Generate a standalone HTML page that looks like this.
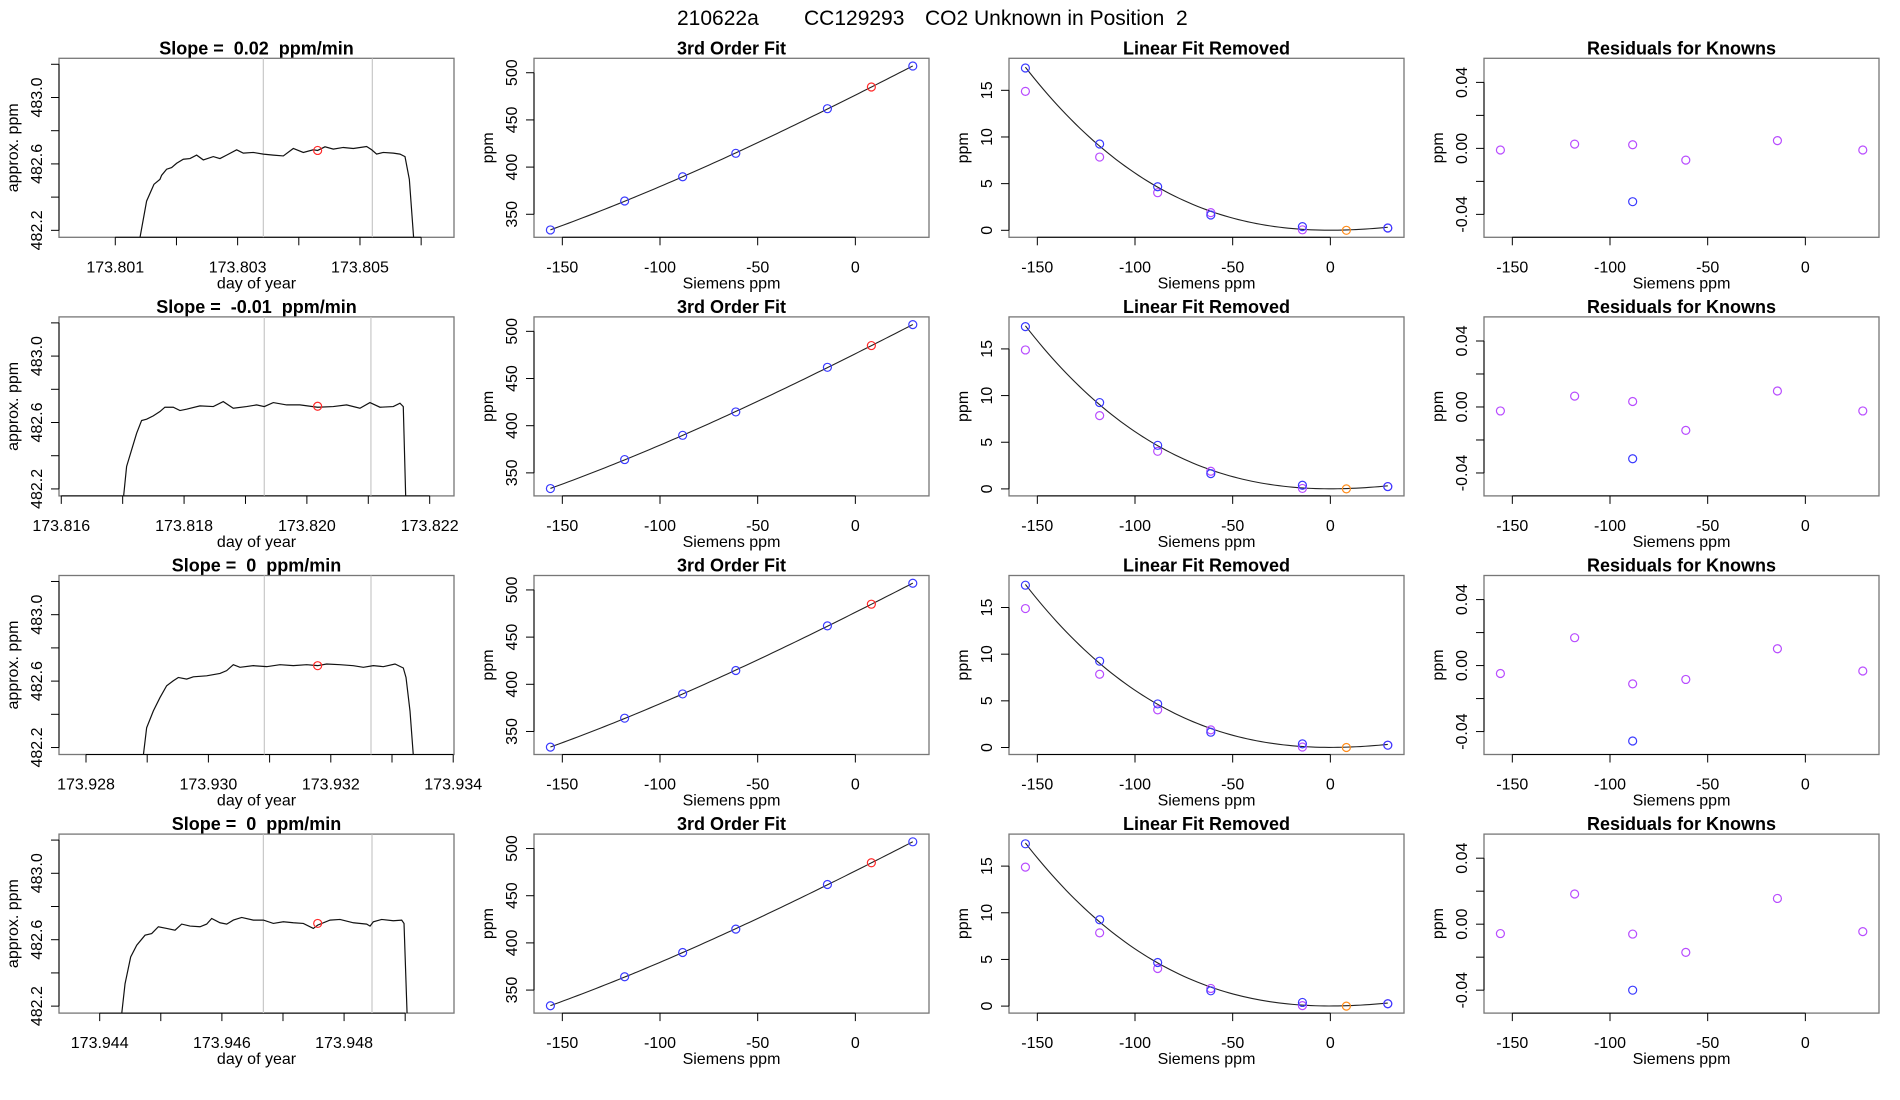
<!DOCTYPE html>
<html><head><meta charset="utf-8"><style>
html,body{margin:0;padding:0;background:#fff;}
svg{display:block;font-family:"Liberation Sans",Arial,sans-serif;}
text{white-space:pre;}
</style></head><body>
<svg id="fig" width="1900" height="1100" viewBox="0 0 1900 1100" xmlns="http://www.w3.org/2000/svg">
<rect width="1900" height="1100" fill="#fff"/>
<g font-size="21" fill="#000">
<text x="677" y="25">210622a</text>
<text x="804" y="25">CC129293</text>
<text x="925" y="25">CO2 Unknown in Position  2</text>
</g>
</svg>
<script>
// ---------- data ----------
const slopeTitles = ["Slope =  0.02  ppm/min","Slope =  -0.01  ppm/min","Slope =  0  ppm/min","Slope =  0  ppm/min"];
const doyRow1 = [173.801376,173.801512,173.801632,173.801730,173.801757,173.801839,173.801921,173.802003,173.802112,173.802221,173.802330,173.802439,173.802602,173.802711,173.802820,173.802984,173.803093,173.803256,173.803420,173.803583,173.803747,173.803910,173.804074,173.804237,173.804308,173.804428,173.804564,173.804728,173.804891,173.805109,173.805191,173.805272,173.805381,173.805545,173.805654,173.805736,173.805807,173.805888];
const ppmRow1 = [482.1,482.376,482.477,482.507,482.531,482.568,482.578,482.604,482.628,482.632,482.653,482.624,482.644,482.632,482.653,482.685,482.665,482.669,482.659,482.653,482.648,482.693,482.669,482.685,482.681,482.703,482.689,482.699,482.693,482.705,482.685,482.659,482.669,482.665,482.659,482.644,482.507,482.1];
const doyRow2 = [173.817000,173.817064,173.817145,173.817227,173.817308,173.817390,173.817498,173.817607,173.817688,173.817824,173.817933,173.818041,173.818258,173.818476,173.818638,173.818801,173.819018,173.819181,173.819306,173.819453,173.819670,173.819887,173.820175,173.820430,173.820647,173.820864,173.821027,173.821190,173.821407,173.821516,173.821570,173.821613];
const ppmRow2 = [482.1,482.335,482.435,482.535,482.612,482.620,482.640,482.666,482.692,482.692,482.672,482.680,482.700,482.696,482.726,482.686,482.696,482.706,482.696,482.720,482.706,482.706,482.692,482.696,482.706,482.686,482.720,482.692,482.696,482.716,482.696,482.1];
const doyRow3 = [173.928920,173.928991,173.929100,173.929209,173.929318,173.929427,173.929509,173.929645,173.929754,173.929972,173.930190,173.930298,173.930407,173.930516,173.930734,173.930952,173.931170,173.931388,173.931606,173.931785,173.931932,173.932150,173.932368,173.932532,173.932695,173.932858,173.933049,173.933185,173.933229,173.933294,173.933359];
const ppmRow3 = [482.1,482.319,482.420,482.501,482.572,482.602,482.622,482.612,482.626,482.632,482.646,482.663,482.699,482.683,482.693,482.687,482.699,482.693,482.699,482.693,482.703,482.699,482.693,482.683,482.693,482.687,482.703,482.679,482.622,482.420,482.1];
const doyRow4 = [173.944344,173.944415,173.944507,173.944606,173.944742,173.944851,173.944960,173.945097,173.945233,173.945342,173.945478,173.945642,173.945751,173.945833,173.945969,173.946079,173.946188,173.946324,173.946515,173.946679,173.946842,173.947006,173.947170,173.947333,173.947497,173.947568,173.947770,173.947933,173.948152,173.948370,173.948425,173.948479,173.948615,173.948806,173.948943,173.948981,173.949036];
const ppmRow4 = [482.1,482.335,482.496,482.567,482.627,482.637,482.678,482.668,482.657,482.694,482.682,482.678,482.694,482.728,482.702,482.694,482.718,482.734,482.718,482.718,482.698,482.708,482.702,482.698,482.668,482.688,482.718,482.722,482.702,482.694,482.682,482.708,482.722,482.714,482.718,482.698,482.1];
const redDoy = [173.804308,173.820175,173.931785,173.947568];
const redPpm = [482.681,482.698,482.693,482.698];
const windowStart = [173.803420,173.819306,173.930914,173.946679];
const windowEnd = [173.805202,173.821043,173.932657,173.948457];
const doyXMin = [173.80008,173.815963,173.927559,173.943334];
const doyXMax = [173.806537,173.822396,173.934013,173.949799];
const doyTicks1 = [173.801,173.802,173.803,173.804,173.805,173.806];
const doyTicks2 = [173.816,173.817,173.818,173.819,173.820,173.821,173.822];
const doyTicks3 = [173.928,173.929,173.930,173.931,173.932,173.933,173.934];
const doyTicks4 = [173.944,173.945,173.946,173.947,173.948,173.949];
const doyLabelEvery = 2;
const ppmTicks = [482.2,482.4,482.6,482.8,483.0,483.2];
const ppmTickLabels = ["482.2","","482.6","","483.0",""];

const siemensX = [-156.1,-118.1,-88.4,-61.2,-14.3,29.4];
const knownPpm = [333.4,364.1,389.8,414.6,461.9,507.1];
const unknownSiemens = 8.2;
const unknownPpm = 484.9;
const fitYTicks = [350,400,450,500];
const siemensTicks = [-150,-100,-50,0];

const linRemBlue = [17.39,9.25,4.67,1.64,0.39,0.25];
const linRemPurple = [14.89,7.85,4.03,1.89,0.05,0.25];
const linRemUnknown = 0.0;
const linRemTicks = [0,5,10,15];

const residRow1 = [-0.0010,0.0026,0.0022,-0.0071,0.0047,-0.0010];
const residRow2 = [-0.0024,0.0066,0.0033,-0.0142,0.0097,-0.0024];
const residRow3 = [-0.0048,0.0169,-0.0111,-0.0084,0.0102,-0.0033];
const residRow4 = [-0.0057,0.0183,-0.0060,-0.0171,0.0156,-0.0045];
const residBlueX = [-88.4,-88.4,-88.4,-88.4];
const residBlue = [-0.0323,-0.0314,-0.0457,-0.040];
const residTicks = [-0.04,-0.02,0,0.02,0.04];
const residTickLabels = ["-0.04","","0.00","","0.04"];

// ---------- drawing ----------
const NS = "http://www.w3.org/2000/svg";
const svg = document.getElementById("fig");
const BOXW = 395, BOXH = 179;
const BLUE = "#3a3aff", PURPLE = "#b84cff", RED = "#ff2a2a", ORANGE = "#ff8c1a";

function mk(tag, attrs, parent){
  const e = document.createElementNS(NS, tag);
  for (const k in attrs) e.setAttribute(k, attrs[k]);
  (parent||svg).appendChild(e);
  return e;
}
function scale(d0,d1,r0,r1){ return v => r0 + (v-d0)/(d1-d0)*(r1-r0); }

function cubicFit(xs, ys){
  const n=4, A=[], b=[];
  for(let i=0;i<n;i++){A.push(new Array(n).fill(0)); b.push(0);}
  for(let k=0;k<xs.length;k++){
    for(let i=0;i<n;i++){
      b[i]+=ys[k]*Math.pow(xs[k],i);
      for(let j=0;j<n;j++) A[i][j]+=Math.pow(xs[k],i+j);
    }
  }
  for(let i=0;i<n;i++){
    let p=i; for(let r=i+1;r<n;r++) if(Math.abs(A[r][i])>Math.abs(A[p][i])) p=r;
    [A[i],A[p]]=[A[p],A[i]]; [b[i],b[p]]=[b[p],b[i]];
    for(let r=i+1;r<n;r++){ const f=A[r][i]/A[i][i]; for(let c=i;c<n;c++) A[r][c]-=f*A[i][c]; b[r]-=f*b[i]; }
  }
  const c=new Array(n).fill(0);
  for(let i=n-1;i>=0;i--){ let s=b[i]; for(let j=i+1;j<n;j++) s-=A[i][j]*c[j]; c[i]=s/A[i][i]; }
  return x => c[0]+c[1]*x+c[2]*x*x+c[3]*x*x*x;
}

function panel(r, c, opt){
  const L = 475*c + 59, T = 58.3 + 258.6*r, B = T + BOXH, R = L + BOXW;
  const g = mk("g", {});
  
  
  const sx = scale(opt.xmin, opt.xmax, L, R), sy = scale(opt.ymin, opt.ymax, B, T);
  const cid = "clip"+r+"_"+c;
  const cp = mk("clipPath", {id: cid}, g);
  mk("rect", {x:L, y:T, width:BOXW, height:BOXH}, cp);
  const t = mk("text", {x:L+BOXW/2, y:T-4, "text-anchor":"middle", "font-size":"18", "font-weight":"bold"}, g);
  t.textContent = opt.title;
  
  
  const box = mk("rect", {x:L, y:T, width:BOXW, height:BOXH, fill:"none", stroke:"#777", "stroke-width":"1.3"}, g);
  
  
  const xa = mk("g", {}, g);
  
  
  const xt = opt.xticks;
  mk("line", {x1:sx(xt[0]), x2:sx(xt[xt.length-1]), y1:B, y2:B, stroke:"#000", "stroke-width":"1"}, xa);
  xt.forEach((v,i)=>{
    mk("line", {x1:sx(v), x2:sx(v), y1:B, y2:B+8, stroke:"#000"}, xa);
    const lab = opt.xlabels[i];
    if (lab){
      const tx = mk("text", {x:sx(v), y:B+35, "text-anchor":"middle", "font-size":"16"}, xa);
      tx.textContent = lab;
      
      
    }
  });
  const xtl = mk("text", {x:L+BOXW/2, y:B+51, "text-anchor":"middle", "font-size":"16"}, g);
  xtl.textContent = opt.xtitle;
  
  
  const ya = mk("g", {}, g);
  
  
  const yt = opt.yticks;
  mk("line", {x1:L, x2:L, y1:sy(yt[0]), y2:sy(yt[yt.length-1]), stroke:"#000"}, ya);
  yt.forEach((v,i)=>{
    mk("line", {x1:L-8, x2:L, y1:sy(v), y2:sy(v), stroke:"#000"}, ya);
    const lab = opt.ylabels[i];
    if (lab){
      const ty = mk("text", {x:0, y:0, "text-anchor":"middle", "font-size":"16", transform:"translate("+(L-17)+","+sy(v)+") rotate(-90)"}, ya);
      ty.textContent = lab;
      
      
    }
  });
  const ytl = mk("text", {x:0, y:0, "text-anchor":"middle", "font-size":"16", transform:"translate("+(L-41)+","+(T+BOXH/2)+") rotate(-90)"}, g);
  ytl.textContent = opt.ytitle;
  
  
  const plot = mk("g", {"clip-path":"url(#"+cid+")"}, g);
  return {g:plot, sx, sy};
}
function circle(p, x, y, col, name){
  const e = mk("circle", {cx:p.sx(x), cy:p.sy(y), r:"4", fill:"none", stroke:col, "stroke-width":"1.2"}, p.g);
  
  
}

const doyData = [doyRow1,doyRow2,doyRow3,doyRow4];
const ppmData = [ppmRow1,ppmRow2,ppmRow3,ppmRow4];
const doyTickSets = [doyTicks1,doyTicks2,doyTicks3,doyTicks4];
const residData = [residRow1,residRow2,residRow3,residRow4];
const fit3 = cubicFit(siemensX, knownPpm);
const fitLR = cubicFit(siemensX, linRemBlue);

for (let r=0;r<4;r++){
  const ticks = doyTickSets[r];
  const p1 = panel(r,0,{name:"timeseries-panel-row"+(r+1), title:slopeTitles[r],
    xmin:doyXMin[r], xmax:doyXMax[r], ymin:482.158, ymax:483.236,
    xticks:ticks, xlabels:ticks.map((v,i)=> i%doyLabelEvery===0 ? v.toFixed(3) : ""),
    yticks:ppmTicks, ylabels:ppmTickLabels, xtitle:"day of year", ytitle:"approx. ppm"});
  [windowStart[r], windowEnd[r]].forEach(v=>{
    const l = mk("line", {x1:p1.sx(v), x2:p1.sx(v), y1:p1.sy(482.158), y2:p1.sy(483.236), stroke:"#c8c8c8", "stroke-width":"1.2"}, p1.g);
    
    
  });
  const pts = doyData[r].map((d,i)=> p1.sx(d).toFixed(2)+","+p1.sy(ppmData[r][i]).toFixed(2)).join(" ");
  const pl = mk("polyline", {points:pts, fill:"none", stroke:"#111", "stroke-width":"1.2"}, p1.g);
  
  
  circle(p1, redDoy[r], redPpm[r], RED, "mean-point");

  const p2 = panel(r,1,{name:"cubic-fit-panel-row"+(r+1), title:"3rd Order Fit",
    xmin:-164.5, xmax:37.7, ymin:325.6, ymax:515.3,
    xticks:siemensTicks, xlabels:siemensTicks.map(String),
    yticks:fitYTicks, ylabels:fitYTicks.map(String), xtitle:"Siemens ppm", ytitle:"ppm"});
  let cp = [];
  const x0 = siemensX[0], x1 = siemensX[siemensX.length-1];
  for (let k=0;k<=80;k++){ const x = x0+(x1-x0)*k/80; cp.push(p2.sx(x).toFixed(2)+","+p2.sy(fit3(x)).toFixed(2)); }
  const fl = mk("polyline", {points:cp.join(" "), fill:"none", stroke:"#222", "stroke-width":"1.1"}, p2.g);
  
  
  siemensX.forEach((x,i)=> circle(p2, x, knownPpm[i], BLUE, "known-standard-point"));
  circle(p2, unknownSiemens, unknownPpm, RED, "unknown-point");

  const p3 = panel(r,2,{name:"linear-removed-panel-row"+(r+1), title:"Linear Fit Removed",
    xmin:-164.5, xmax:37.7, ymin:-0.75, ymax:18.43,
    xticks:siemensTicks, xlabels:siemensTicks.map(String),
    yticks:linRemTicks, ylabels:linRemTicks.map(String), xtitle:"Siemens ppm", ytitle:"ppm"});
  cp = [];
  for (let k=0;k<=80;k++){ const x = x0+(x1-x0)*k/80; cp.push(p3.sx(x).toFixed(2)+","+p3.sy(fitLR(x)).toFixed(2)); }
  const fl3 = mk("polyline", {points:cp.join(" "), fill:"none", stroke:"#222", "stroke-width":"1.1"}, p3.g);
  
  
  siemensX.forEach((x,i)=> circle(p3, x, linRemPurple[i], PURPLE, "measured-point"));
  siemensX.forEach((x,i)=> circle(p3, x, linRemBlue[i], BLUE, "fit-point"));
  circle(p3, unknownSiemens, linRemUnknown, ORANGE, "unknown-point");

  const p4 = panel(r,3,{name:"residuals-panel-row"+(r+1), title:"Residuals for Knowns",
    xmin:-164.5, xmax:37.7, ymin:-0.0539, ymax:0.0546,
    xticks:siemensTicks, xlabels:siemensTicks.map(String),
    yticks:residTicks, ylabels:residTickLabels, xtitle:"Siemens ppm", ytitle:"ppm"});
  siemensX.forEach((x,i)=> circle(p4, x, residData[r][i], PURPLE, "residual-point"));
  circle(p4, residBlueX[r], residBlue[r], BLUE, "excluded-residual-point");
}
</script>
</body></html>
